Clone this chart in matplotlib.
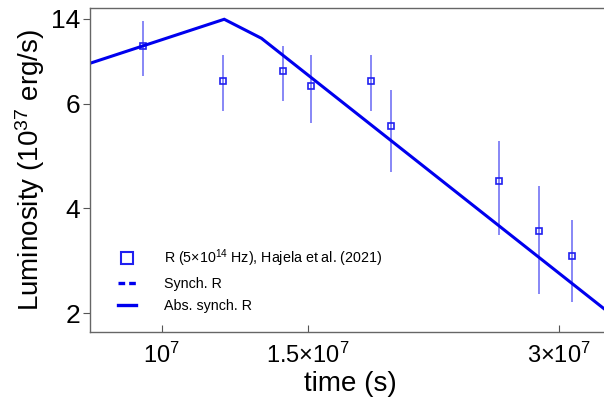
import matplotlib
matplotlib.use("Agg")
import matplotlib.pyplot as plt
from matplotlib.lines import Line2D
from matplotlib.ticker import NullLocator, FixedLocator, FixedFormatter

plt.rcParams['font.family'] = ['Liberation Sans', 'DejaVu Sans']
plt.rcParams['mathtext.fontset'] = 'custom'
plt.rcParams['mathtext.rm'] = 'Liberation Sans'
plt.rcParams['mathtext.it'] = 'Liberation Sans:italic'
plt.rcParams['mathtext.bf'] = 'Liberation Sans:bold'

# Observed R-band data (time in s, luminosity on the chart's vertical scale)
obs_t = [9.49e6, 1.185e7, 1.401e7, 1.510e7, 1.784e7, 1.885e7, 2.541e7, 2.843e7, 3.117e7]
obs_L = [7.107, 6.439, 6.624, 6.344, 6.439, 5.574, 4.531, 3.571, 3.099]
obs_hi = [7.578, 6.929, 7.107, 6.929, 6.929, 6.262, 5.294, 4.429, 3.781]
obs_lo = [6.529, 5.861, 6.057, 5.632, 5.861, 4.702, 3.494, 2.368, 2.221]

# Absorbed synchrotron model curve
model_t = [8.20e6, 1.189e7, 1.318e7, 3.40e7]
model_L = [6.771, 7.611, 7.248, 2.092]

x_ticks = [1e7, 1.5e7, 3e7]
x_labels = [r'$10^7$', r'$1.5{\times}10^7$', r'$3{\times}10^7$']
y_ticks = [2, 4, 6, 7.62]
y_labels = ['2', '4', '6', '14']

fig = plt.figure(figsize=(6.04, 4.07), dpi=100)
ax = fig.add_axes([90/604, 1-331.7/407, 1-90/604 + 0.01, (331.7-8)/407])

blue = '#0000ee'
err_lo = [v - l for v, l in zip(obs_L, obs_lo)]
err_hi = [h - v for v, h in zip(obs_L, obs_hi)]
ax.errorbar(obs_t, obs_L, yerr=[err_lo, err_hi], fmt='none', ecolor='#7373f5', elinewidth=1.2, capsize=0)
ax.plot(obs_t, obs_L, linestyle='none', marker='s', markersize=5, markerfacecolor='none',
        markeredgecolor='#2020f0', markeredgewidth=1.2)
ax.plot(model_t, model_L, color=blue, linewidth=2.2, solid_joinstyle='miter')

ax.set_xscale('log')
ax.set_xlim(8.20e6, 3.46e7)
ax.set_ylim(1.649, 7.826)
ax.xaxis.set_major_locator(FixedLocator(x_ticks))
ax.xaxis.set_major_formatter(FixedFormatter(x_labels))
ax.xaxis.set_minor_locator(NullLocator())
ax.yaxis.set_major_locator(FixedLocator(y_ticks))
ax.yaxis.set_major_formatter(FixedFormatter(y_labels))
ax.yaxis.set_minor_locator(NullLocator())

ax.tick_params(axis='x', direction='in', length=5, width=0.8, color='#555555', labelsize=17, pad=8)
ax.tick_params(axis='y', direction='out', length=5, width=0.8, color='#555555', labelsize=19, pad=2)
for side in ['left', 'top', 'bottom']:
    ax.spines[side].set_color('#666666')
    ax.spines[side].set_linewidth(1.0)
ax.spines['right'].set_visible(False)

ax.set_xlabel('time (s)', fontsize=20, labelpad=2)
ax.set_ylabel(r'Luminosity (10$^{37}$ erg/s)', fontsize=20, labelpad=3)

handles = [
    Line2D([], [], linestyle='none', marker='s', markersize=8, markerfacecolor='none',
           markeredgecolor='#2020f0', markeredgewidth=1.5),
    Line2D([], [], color=blue, linestyle=(0, (2.0, 1.2)), linewidth=2.4),
    Line2D([], [], color=blue, linestyle='-', linewidth=2.4),
]
labels = [r'R (5$\times$10$^{14}$ Hz), Hajela et al. (2021)', 'Synch. R', 'Abs. synch. R']
ax.legend(handles, labels, loc='upper left', bbox_to_anchor=(0.03, 0.30), frameon=False,
          fontsize=10.3, handlelength=1.2, handletextpad=2.0, labelspacing=0.55)

fig.savefig('out.png', dpi=100)
